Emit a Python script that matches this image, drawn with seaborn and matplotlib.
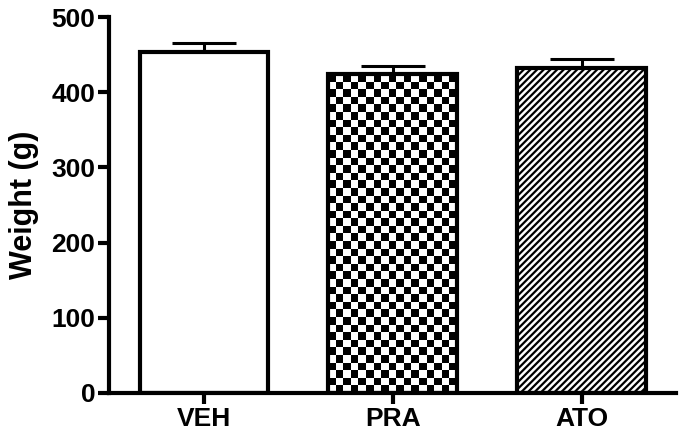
import numpy as np
import pandas as pd
import matplotlib
matplotlib.use("Agg")
import matplotlib.pyplot as plt
import seaborn as sns

groups = ["VEH", "PRA", "ATO"]
weights = [453, 424, 432]
sems = [13, 11, 12]
yticks = [0, 100, 200, 300, 400, 500]

sns.set_style("ticks")
plt.rcParams["font.family"] = ["Liberation Sans", "DejaVu Sans"]
plt.rcParams["font.weight"] = "bold"
plt.rcParams["hatch.linewidth"] = 1.6
plt.rcParams["text.color"] = "black"
plt.rcParams["axes.labelcolor"] = "black"
plt.rcParams["xtick.color"] = "black"
plt.rcParams["ytick.color"] = "black"

fig = plt.figure(figsize=(6.83, 4.38), dpi=100)
ax = fig.add_axes([0.160, 0.103, 0.830, 0.858])

df = pd.DataFrame({"group": groups, "weight": weights})
sns.barplot(data=df, x="group", y="weight", order=groups, color="white",
            edgecolor="black", linewidth=3, width=0.68, errorbar=None,
            saturation=1, ax=ax, zorder=3)

ax.errorbar(range(len(groups)), weights, yerr=[[0] * len(groups), sems],
            fmt="none", ecolor="black", elinewidth=2.2, capsize=23,
            capthick=2.2, zorder=2)

ax.set_xlim(-0.5, 2.5)
ax.set_ylim(0, 500)
ax.set_yticks(yticks)
ax.set_xlabel("")
ax.set_ylabel("Weight (g)", fontsize=22, fontweight="bold", labelpad=9,
              color="black")
ax.tick_params(axis="both", which="both", direction="out", length=8, width=3,
               labelsize=19, pad=2, color="black", labelcolor="black")
for lab in ax.get_xticklabels() + ax.get_yticklabels():
    lab.set_fontweight("bold")
for s in ["top", "right"]:
    ax.spines[s].set_visible(False)
for s in ["left", "bottom"]:
    ax.spines[s].set_linewidth(3)
    ax.spines[s].set_color("black")
    ax.spines[s].set_zorder(5)

patches = ax.patches
# ATO: diagonal hatch
patches[2].set_hatch("/////")

# PRA: checkerboard texture clipped to bar
p = patches[1]
x0, y0 = p.get_x(), p.get_y()
w, h = p.get_width(), p.get_height()
(px0, py0) = ax.transData.transform((x0, y0))
(px1, py1) = ax.transData.transform((x0 + w, y0 + h))
cell = 7.5
nc = int(round((px1 - px0) / cell))
nr = int(round((py1 - py0) / cell))
ii, jj = np.indices((nr, nc))
checker = ((ii + jj) % 2).astype(float)
im = ax.imshow(checker, cmap="gray", vmin=0, vmax=1, interpolation="nearest",
               extent=(x0, x0 + w, y0, y0 + h), aspect="auto", zorder=3.5,
               origin="upper")
im.set_clip_path(p)
p.set_zorder(4)
p.set_facecolor("none")
ax.set_xlim(-0.5, 2.5)
ax.set_ylim(0, 500)

fig.savefig("out.png", dpi=100)
